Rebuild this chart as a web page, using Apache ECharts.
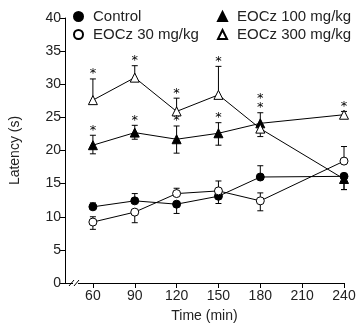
<!DOCTYPE html>
<html>
<head>
<meta charset="utf-8">
<script src="https://cdn.jsdelivr.net/npm/echarts@6/dist/echarts.min.js"></script>
<style>
html,body{margin:0;padding:0;background:#fff;}
#chart{width:361px;height:331px;}
</style>
</head>
<body>
<div id="chart"></div>
<script>
// time points (min)
var times = [60, 90, 120, 150, 180, 240];
var xTicks = [60, 90, 120, 150, 180, 210, 240];
// latency (s), mean and error bar (up / down)
var control = [11.5, 12.4, 11.9, 13.1, 16.0, 16.1];
var controlUp = [0.6, 1.1, 0, 0, 1.7, 0];
var controlDown = [0, 0, 1.4, 1.1, 0, 2.0];
var eocz30 = [9.2, 10.7, 13.5, 13.9, 12.4, 18.4];
var eocz30Up = [0.8, 0, 0.8, 1.5, 1.2, 2.2];
var eocz30Down = [1.1, 1.6, 0, 0, 1.5, 0];
var eocz100 = [20.8, 22.7, 21.7, 22.6, 24.1, 25.4];
var eocz100Up = [1.5, 1.1, 2.0, 1.6, 1.6, 0.5];
var eocz100Down = [1.3, 1.0, 2.1, 1.8, 0, 0];
var eocz300 = [27.6, 31.0, 25.9, 28.4, 23.3, 15.7];
var eocz300Up = [3.2, 1.8, 2.0, 4.3, 0, 0];
var eocz300Down = [0, 0, 0, 0, 1.2, 1.6];
// significance asterisks
var stars100 = [1, 1, 1, 1, 1, 1];
var stars300 = [1, 1, 1, 1, 1, 0];

var FONT = 'Liberation Sans';
var TXT = '#222';

function pts(vals, fillAt240) {
	return vals.map(function(v, i){
		var d = {value: [times[i], v]};
		// markers at 240 min are drawn swapped in the original figure
		if (fillAt240 && i === times.length - 1) d.itemStyle = {color: fillAt240};
		return d;
	});
}
function errData(vals, up, down) {
	return vals.map(function(v, i){ return [times[i], v, up[i], down[i]]; });
}
function lineSeries(name, vals, symbol, size, fill, fillAt240) {
	return {
		name: name, type: 'line', data: pts(vals, fillAt240),
		symbol: symbol, symbolSize: size, showSymbol: true,
		lineStyle: {color: '#000', width: 1},
		itemStyle: {color: fill, borderColor: '#000', borderWidth: 1},
		z: 5, animation: false
	};
}
function errSeries(vals, up, down) {
	return {
		type: 'custom', z: 3, silent: true, animation: false,
		data: errData(vals, up, down),
		renderItem: function(params, api){
			var x = api.value(0), v = api.value(1), u = api.value(2), d = api.value(3);
			var top = api.coord([x, v + u]), bot = api.coord([x, v - d]);
			var c = [];
			c.push({type:'line', shape:{x1:top[0], y1:top[1], x2:bot[0], y2:bot[1]}, style:{stroke:'#000', lineWidth:1}});
			if (u > 0) c.push({type:'line', shape:{x1:top[0]-3, y1:top[1], x2:top[0]+3, y2:top[1]}, style:{stroke:'#000', lineWidth:1}});
			if (d > 0) c.push({type:'line', shape:{x1:bot[0]-3, y1:bot[1], x2:bot[0]+3, y2:bot[1]}, style:{stroke:'#000', lineWidth:1}});
			return {type:'group', children:c};
		}
	};
}
// asterisk anchors: top of each bar; close anchors at one time are stacked
var starData = [];
times.forEach(function(t, i){
	var a = [];
	if (stars100[i]) a.push(eocz100[i] + eocz100Up[i]);
	if (stars300[i]) a.push(eocz300[i] + eocz300Up[i]);
	a.sort(function(p, q){ return q - p; });
	var stack = 0;
	a.forEach(function(v, k){
		if (k > 0 && a[0] - v < 3) { stack++; starData.push([t, a[0], stack]); }
		else { stack = 0; starData.push([t, v, 0]); }
	});
});

var chart = echarts.init(document.getElementById('chart'), null, {renderer: 'canvas'});
var legendText = {fontFamily: FONT, fontSize: 15, color: TXT, padding: [0, 0, 0, 5]};
var option = {
	animation: false,
	textStyle: {fontFamily: FONT},
	grid: {left: 63, right: 17, top: 18, bottom: 48},
	legend: [
		{left: 68, top: 4, orient: 'vertical', itemWidth: 9, itemHeight: 9, itemGap: 3,
		 data: [{name:'Control', icon:'circle'}, {name:'EOCz 30 mg/kg', icon:'circle'}], textStyle: legendText},
		{left: 212, top: 4, orient: 'vertical', itemWidth: 9, itemHeight: 9, itemGap: 3,
		 data: [{name:'EOCz 100 mg/kg', icon:'triangle'}, {name:'EOCz 300 mg/kg', icon:'triangle'}], textStyle: legendText}
	],
	xAxis: {
		type: 'value', min: 40, max: 240,
		name: 'Time (min)', nameLocation: 'middle', nameGap: 26,
		nameTextStyle: {fontFamily: FONT, fontSize: 14, color: TXT},
		axisLine: {lineStyle: {color: '#000', width: 1}},
		axisTick: {length: 5, lineStyle: {color: '#000'}, customValues: xTicks},
		axisLabel: {fontFamily: FONT, fontSize: 14, color: TXT, margin: 6, customValues: xTicks},
		splitLine: {show: false}
	},
	yAxis: {
		type: 'value', min: 0, max: 40, interval: 5,
		name: 'Latency (s)', nameLocation: 'middle', nameGap: 43,
		nameTextStyle: {fontFamily: FONT, fontSize: 14, color: TXT},
		axisLine: {show: true, lineStyle: {color: '#000', width: 1}},
		axisTick: {show: true, length: 5, lineStyle: {color: '#000'}},
		axisLabel: {fontFamily: FONT, fontSize: 14, color: TXT, margin: 4},
		splitLine: {show: false}
	},
	series: [
		errSeries(control, controlUp, controlDown),
		errSeries(eocz30, eocz30Up, eocz30Down),
		errSeries(eocz100, eocz100Up, eocz100Down),
		errSeries(eocz300, eocz300Up, eocz300Down),
		lineSeries('Control', control, 'circle', 8, '#000'),
		lineSeries('EOCz 30 mg/kg', eocz30, 'circle', 8, '#fff'),
		lineSeries('EOCz 100 mg/kg', eocz100, 'triangle', 9, '#000', '#fff'),
		lineSeries('EOCz 300 mg/kg', eocz300, 'triangle', 9, '#fff', '#000'),
		{
			type: 'custom', z: 6, silent: true, animation: false, data: starData,
			renderItem: function(params, api){
				var p = api.coord([api.value(0), api.value(1)]);
				return {type:'text', x: p[0], y: p[1] - 5 - api.value(2) * 9,
					style:{text:'*', fontFamily: 'DejaVu Sans', fontSize: 13, fill:'#000', textAlign:'center', textVerticalAlign:'middle'}};
			}
		}
	]
};
chart.setOption(option);

// axis break mark near the origin
var o = chart.convertToPixel({gridIndex: 0}, [40, 0]);
var bx = o[0] + 10, by = o[1];
chart.setOption({
	graphic: [
		{type:'rect', shape:{x: bx - 2, y: by - 2, width: 5, height: 4}, style:{fill:'#fff'}, z: 10},
		{type:'line', shape:{x1: bx - 6, y1: by + 3, x2: bx - 1, y2: by - 3}, style:{stroke:'#000', lineWidth:1}, z: 11},
		{type:'line', shape:{x1: bx - 1, y1: by + 3, x2: bx + 4, y2: by - 3}, style:{stroke:'#000', lineWidth:1}, z: 11}
	]
});
</script>
</body>
</html>
